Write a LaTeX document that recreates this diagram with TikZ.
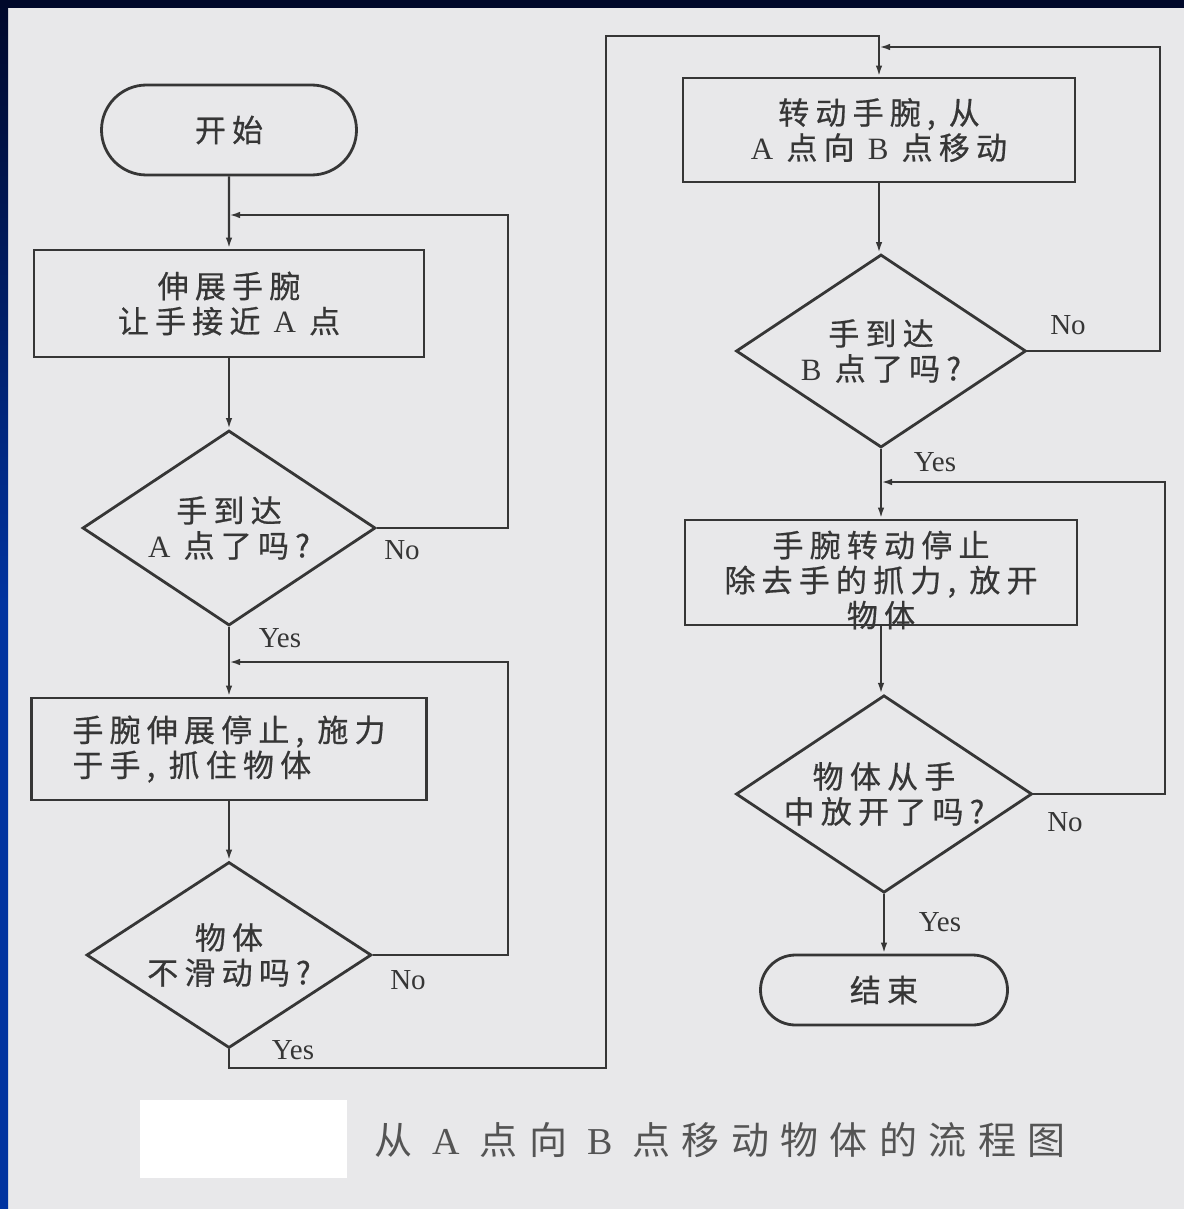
\documentclass[tikz,border=0pt]{standalone}
\usepackage{fontspec}
\setmainfont{Liberation Serif}
\newfontfamily\cjk{Noto Sans CJK SC}[LetterSpace=20, FakeBold=0.6]
\newfontfamily\cjkcap{Noto Sans CJK SC}[LetterSpace=30]
\usetikzlibrary{shapes.geometric,shapes.misc,arrows.meta}
\definecolor{bg}{HTML}{E8E8EA}
\definecolor{ink}{HTML}{363636}
\definecolor{navy}{HTML}{00082A}
\definecolor{bluebar}{HTML}{0033A0}
\newcommand\lat[1]{{\rmfamily #1}}
\begin{document}
\begin{tikzpicture}[x=1pt,y=-1pt,
  every node/.style={text=ink},
  cjkfont/.style={font=\cjk\fontsize{31}{35}\selectfont},
  proc/.style={draw=ink, line width=2.8pt, rectangle, inner sep=0pt, cjkfont, align=center},
  term/.style={draw=ink, line width=2.8pt, rounded rectangle, inner sep=0pt, cjkfont},
  dec/.style={draw=ink, line width=2.8pt, diamond, aspect=1.5, inner sep=0pt, cjkfont, align=center},
  conn/.style={draw=ink, line width=2.3pt},
  arr/.style={conn, -{Latex[length=11pt,width=6.5pt]}},
  lbl/.style={font=\rmfamily\fontsize{29}{30}\selectfont, inner sep=0pt}
]
% background and border
\fill[bg] (0,0) rectangle (1184,1209);
\useasboundingbox (0,0) rectangle (1184,1209);
\shade[top color=navy, bottom color=bluebar, middle color=bluebar] (0,0) rectangle (8,1209);
\fill[navy] (0,0) rectangle (1184,8);

% left column
\node[term, minimum width=255pt, minimum height=90pt] (start) at (229,130) {开始};
\node[proc, minimum width=390pt, minimum height=107pt] (box1) at (229,303.5) {伸展手腕\\让手接近 \lat{A} 点};
\node[dec, minimum width=293pt, minimum height=195pt] (d1) at (229,528) {手到达\\\lat{A} 点了吗?};
\node[proc, minimum width=395pt, minimum height=102pt, align=left] (box2) at (229,749) {手腕伸展停止, 施力\\于手, 抓住物体};
\node[dec, minimum width=285pt, minimum height=186pt] (d2) at (229,955) {物体\\不滑动吗?};

% right column
\node[proc, minimum width=392pt, minimum height=104pt] (box3) at (879,130) {转动手腕, 从\\\lat{A} 点向 \lat{B} 点移动};
\node[dec, minimum width=290pt, minimum height=193pt] (d3) at (881,351) {手到达\\\lat{B} 点了吗?};
\node[proc, minimum width=392pt, minimum height=105pt] (box4) at (881,572.5) {};
\node[cjkfont, align=center, inner sep=0pt] (box4t) at (881,580) {手腕转动停止\\除去手的抓力, 放开\\物体};
\node[dec, minimum width=296pt, minimum height=192pt] (d4) at (884,794) {物体从手\\中放开了吗?};
\node[term, minimum width=247pt, minimum height=70pt] (end) at (884,990) {结束};

% junction and bend coordinates
\coordinate (j1) at (229,215);
\coordinate (r1) at (508,215);
\coordinate (j2) at (229,662);
\coordinate (r2) at (508,662);
\coordinate (c1) at (606,1068);
\coordinate (c2) at (879,36);
\coordinate (j3) at (879,47);
\coordinate (r3) at (1160,47);
\coordinate (j4) at (881,482);
\coordinate (r4) at (1165,482);

% main flow
\draw[arr] (start) -- (box1);
\draw[arr] (box1) -- (d1);
\draw[arr] (d1) -- (box2);
\draw[arr] (box2) -- (d2);
\draw[arr] (d2.south) |- (c1) |- (c2) -- (box3.north);
\draw[arr] (box3.south) -- (box3.south |- d3.north);
\draw[arr] (d3) -- (box4);
\draw[arr] (box4.south) -- (box4.south |- d4.north);
\draw[arr] (d4) -- (end);

% loops
\draw[arr] (d1.east) -| (r1) -- (j1);
\draw[arr] (d2.east) -| (r2) -- (j2);
\draw[arr] (d3.east) -| (r3) -- (j3);
\draw[arr] (d4.east) -| (r4) -- (j4);

% labels
\node[lbl] (n1) at (402,550) {No};
\node[lbl] (y1) at (280,638) {Yes};
\node[lbl] (n2) at (408,980) {No};
\node[lbl] (y2) at (293,1050) {Yes};
\node[lbl] (n3) at (1068,325) {No};
\node[lbl] (y3) at (935,462) {Yes};
\node[lbl] (n4) at (1065,822) {No};
\node[lbl] (y4) at (940,922) {Yes};

% caption and white patch
\fill[white] (140,1100) rectangle (347,1178);
\node[inner sep=0pt, text=ink!85, font=\cjkcap\fontsize{38}{42}\selectfont] (cap) at (720,1140) {从 {\rmfamily A} 点向 {\rmfamily B} 点移动物体的流程图};
\end{tikzpicture}
\end{document}
